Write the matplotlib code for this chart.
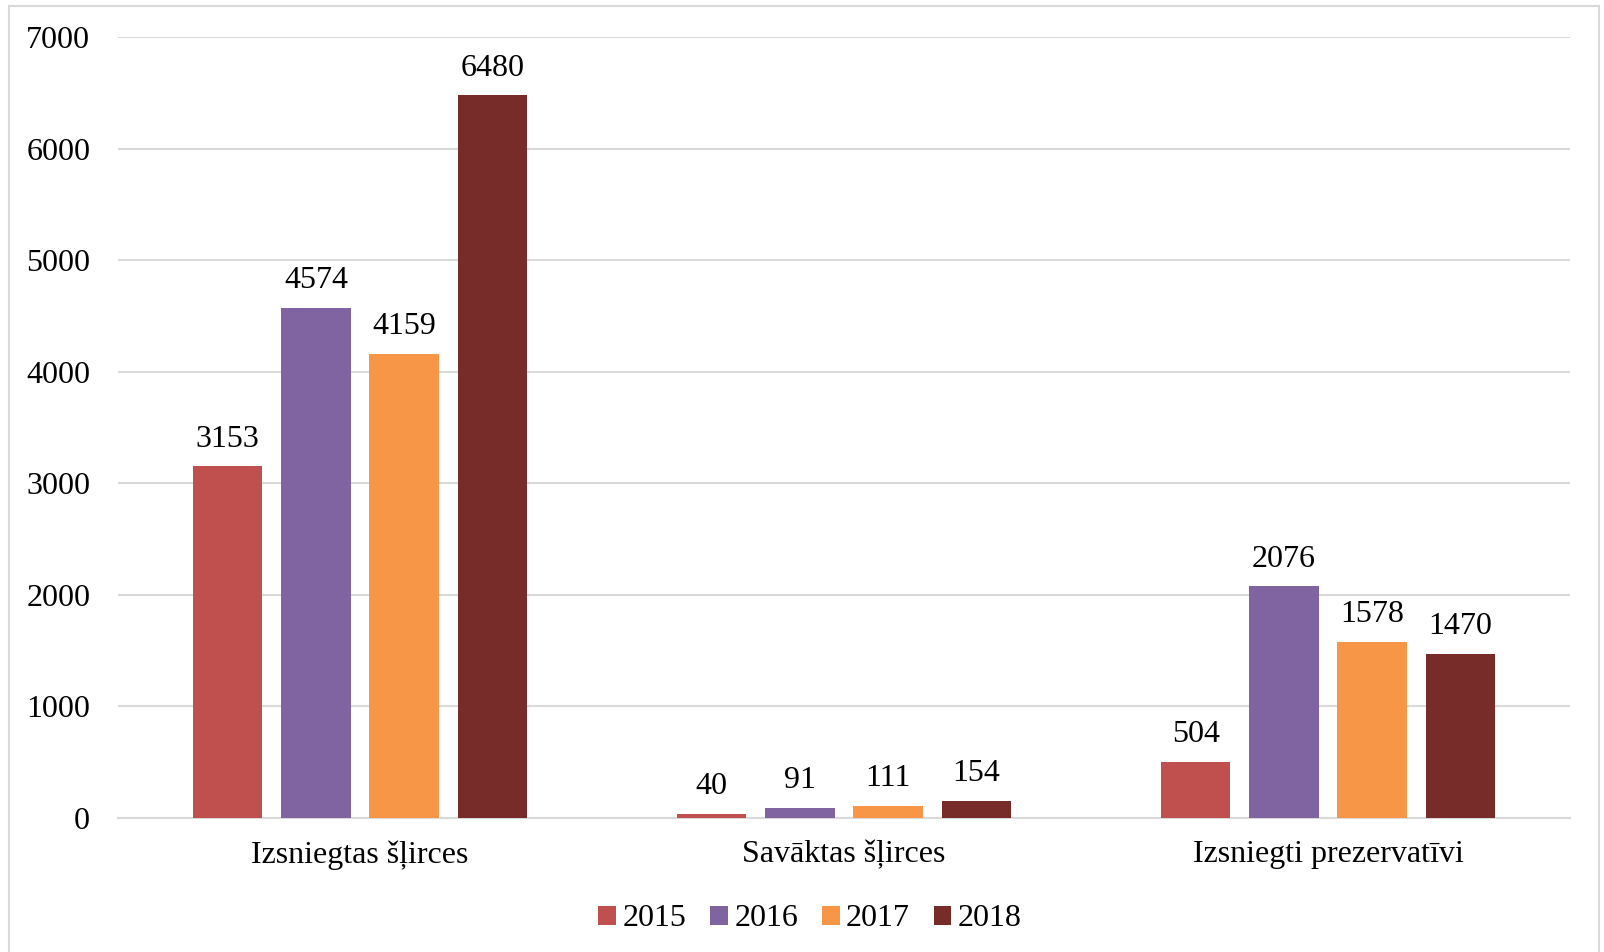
import numpy as np
import matplotlib.pyplot as plt
from matplotlib.patches import Rectangle

plt.rcParams['font.family'] = ['Liberation Serif', 'DejaVu Serif']

categories = ['Izsniegtas šļirces', 'Savāktas šļirces', 'Izsniegti prezervatīvi']
years = ['2015', '2016', '2017', '2018']
values = {
    '2015': [3153, 40, 504],
    '2016': [4574, 91, 2076],
    '2017': [4159, 111, 1578],
    '2018': [6480, 154, 1470],
}
colors = ['#C0504D', '#8064A2', '#F79646', '#772C2A']

W, H = 1604, 952
fig = plt.figure(figsize=(W / 100, H / 100), dpi=100)
ax = fig.add_axes([118 / W, 1 - 818 / H, (1570 - 118) / W, (818 - 37) / H])

fs = 23
x = np.arange(len(categories))
step = 0.182
width = 0.143
for i, yr in enumerate(years):
    pos = x + (i - 1.5) * step
    bars = ax.bar(pos, values[yr], width, color=colors[i], label=yr, zorder=3)
    for b, v in zip(bars, values[yr]):
        ax.annotate(str(v), (b.get_x() + b.get_width() / 2, v),
                    xytext=(0, 9), textcoords='offset points',
                    ha='center', va='bottom', fontsize=fs)

ax.set_xlim(-0.5, 2.5)
ax.set_ylim(0, 7000)
ax.set_yticks(range(0, 7001, 1000))
ax.yaxis.grid(True, color='#D9D9D9', linewidth=1.5, zorder=0)
ax.set_axisbelow(True)
for s in ['top', 'right', 'left']:
    ax.spines[s].set_visible(False)
ax.spines['bottom'].set_color('#D9D9D9')
ax.spines['bottom'].set_linewidth(1.5)
ax.tick_params(axis='both', length=0, labelsize=fs)
ax.tick_params(axis='y', pad=20)
ax.tick_params(axis='x', pad=16)
ax.set_xticks(x)
ax.set_xticklabels(categories)

fig.legend(loc='center', bbox_to_anchor=(0.5 + 8 / W, 1 - 919 / H), ncol=4, frameon=False,
           fontsize=fs, handlelength=0.55, handleheight=0.55, handletextpad=0.2,
           columnspacing=0.75)

fig.patches.append(Rectangle((9 / W, -0.05), (1599 - 9) / W, 1.05 - 6 / H,
                             transform=fig.transFigure, fill=False,
                             edgecolor='#D9D9D9', linewidth=1.5))

fig.savefig('out.png', dpi=100)
